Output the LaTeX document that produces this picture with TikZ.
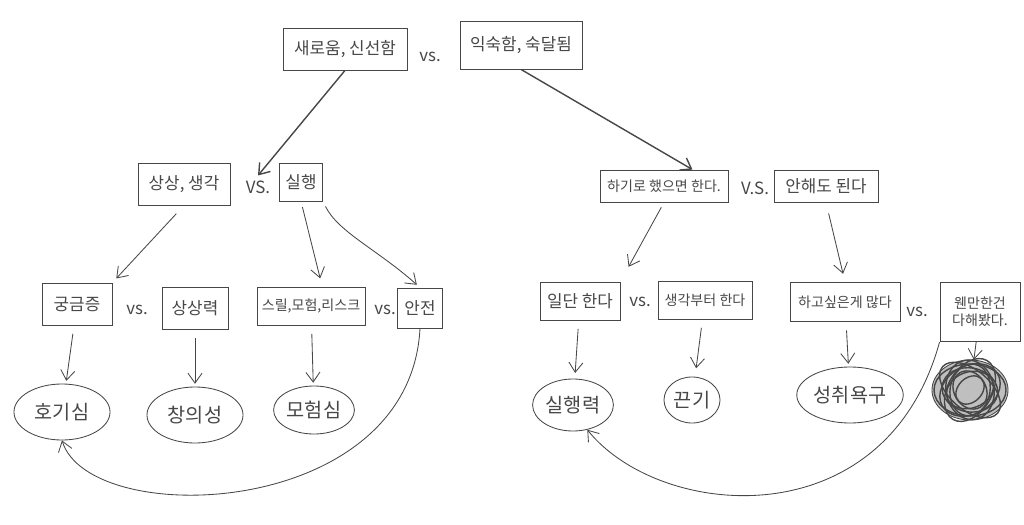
\documentclass[tikz,border=0pt]{standalone}
\usepackage{fontspec}
\newfontfamily\kr{Noto Sans CJK KR}
\usetikzlibrary{shapes.geometric,arrows.meta}
\definecolor{pencil}{gray}{0.28}
\tikzset{
	box/.style={draw=pencil, rectangle, inner sep=3pt, text=pencil, font=\kr\fontsize{12}{14}\selectfont},
	smallbox/.style={box, font=\kr\fontsize{10}{12}\selectfont},
	versus/.style={text=pencil, font=\kr\fontsize{12}{14}\selectfont},
	trait/.style={draw=pencil, ellipse, inner sep=1pt, text=pencil, font=\kr\fontsize{14}{16}\selectfont}
}

\begin{document}
\begin{tikzpicture}[x=0.025cm, y=-0.025cm, line width=0.6pt, pencil, >={Straight Barb[length=7pt,width=10pt]}]
	\useasboundingbox (0,0) rectangle (1024,525);
	\node (new) at (345,49) [box, minimum width=3.1cm, minimum height=1.05cm] {새로움, 신선함};
	\node (vs0) at (430,57) [versus] {vs.};
	\node (old) at (521,45) [box, minimum width=3.05cm, minimum height=1.2cm] {익숙함, 숙달됨};
		\node (think) at (184,184) [box, minimum width=2.3cm, minimum height=1.05cm] {상상, 생각};
		\node (vs1) at (258,187) [versus] {VS.};
		\node (act) at (301,182) [box, minimum width=1.08cm, minimum height=0.95cm] {실행};
		\node (must) at (664,186) [smallbox, minimum width=3.2cm, minimum height=0.8cm] {하기로 했으면 한다.};
		\node (vs2) at (755,188) [versus] {V.S.};
		\node (maynot) at (826,186) [box, minimum width=2.6cm, minimum height=0.8cm] {안해도 된다};
			\node (curious) at (77,304) [box, minimum width=1.75cm, minimum height=1.05cm] {궁금증};
			\node (vs3) at (137,310) [versus] {vs.};
			\node (imagine) at (195,308) [box, minimum width=1.65cm, minimum height=1.05cm] {상상력};
			\node (risk) at (311,306) [smallbox, minimum width=2.7cm, minimum height=0.95cm] {스릴,모험,리스크};
			\node (vs4) at (385,310) [versus] {vs.};
			\node (safe) at (420,308) [box, minimum width=1.12cm, minimum height=1cm] {안전};
			\node (doit) at (580,301) [box, minimum width=2cm, minimum height=0.95cm] {일단 한다};
			\node (vs5) at (640,302) [versus] {vs.};
			\node (plan) at (705,300) [smallbox, minimum width=2.35cm, minimum height=0.95cm] {생각부터 한다};
			\node (wants) at (845,302) [smallbox, minimum width=2.75cm, minimum height=0.98cm] {하고싶은게 많다};
			\node (vs6) at (917,312) [versus] {vs.};
			\node (done) at (980,312) [smallbox, align=center, minimum width=2cm, minimum height=1.48cm] {웬만한건\\다해봤다.};
				\node (curiosity) at (62,412) [trait, minimum width=2.4cm, minimum height=1.4cm] {호기심};
				\node (creativity) at (195,415) [trait, minimum width=2.4cm, minimum height=1.4cm] {창의성};
				\node (adventure) at (314,410) [trait, minimum width=1.8cm, minimum height=1.2cm] {모험심};
				\node (drive) at (573,405) [trait, minimum width=1.7cm, minimum height=1.3cm] {실행력};
				\node (grit) at (692,400) [trait, minimum width=1.4cm, minimum height=1.15cm] {끈기};
				\node (ambition) at (850,395) [trait, minimum width=2.3cm, minimum height=1.4cm] {성취욕구};
				\node (crossed) at (970,390) [trait, fill=pencil!35, minimum width=1.9cm, minimum height=1.5cm] {};
	\foreach \r/\w/\h in {0/0.9/0.65, 30/0.8/0.6, 60/0.85/0.55, 100/0.75/0.6, 140/0.9/0.5, 170/0.7/0.55, 20/0.6/0.45, 80/0.65/0.5, 120/0.5/0.4, 45/0.4/0.3}
		\draw[line width=1pt, rotate around={\r:(crossed.center)}] (crossed.center) ellipse [x radius=\w cm, y radius=\h cm];
	\draw[->, line width=1pt] (new.south) to (vs1.north);
	\draw[->, line width=1pt] (old.south) to (must.30);
	\draw[->, shorten <=8pt, shorten >=4pt] (think.south) to (curious.north east);
	\draw[->, shorten <=4pt, shorten >=6pt] (act.south) to (risk.60);
	\draw[->, shorten <=4pt, shorten >=3pt] (act.south east) .. controls (338,232) and (378,250) .. (safe.north);
	\draw[->, shorten <=4pt, shorten >=12pt] (must.south) to (doit.north east);
	\draw[->, shorten <=8pt, shorten >=6pt] (maynot.south) to (wants.north);
	\draw[->, shorten <=6pt, shorten >=2pt] (curious) to (curiosity);
	\draw[->, shorten <=6pt, shorten >=2pt] (imagine) to (creativity);
	\draw[->, shorten <=6pt, shorten >=2pt] (risk) to (adventure);
	\draw[->, shorten <=6pt, shorten >=4pt] (doit) to (drive);
	\draw[->, shorten <=6pt, shorten >=6pt] (plan) to (grit);
	\draw[->, shorten <=6pt, shorten >=2pt] (wants) to (ambition);
	\draw[->] (done) to (crossed);
	\draw[->] (safe.south) .. controls (410,520) and (90,530) .. (curiosity.south);
	\draw[->] (done.south west) .. controls (885,540) and (660,520) .. (drive.-60);
\end{tikzpicture}
\end{document}
